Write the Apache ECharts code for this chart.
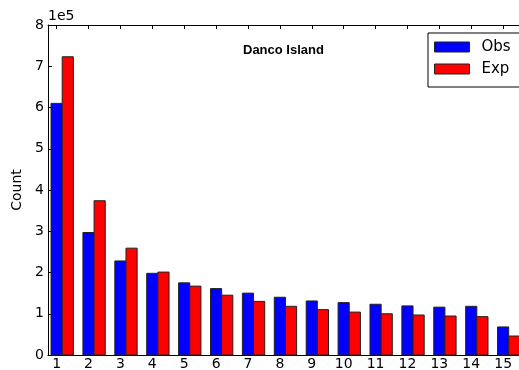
<!DOCTYPE html>
<html>
<head>
<meta charset="utf-8">
<script src="https://cdn.jsdelivr.net/npm/echarts@6/dist/echarts.min.js"></script>
<style>
  html, body { margin: 0; padding: 0; background: #fff; }
  #chart { width: 519px; height: 370px; }
</style>
</head>
<body>
<div id="chart"></div>
<script>
// Bin index (1..15) and the observed / expected counts, in units of 1e5
const categories = [1, 2, 3, 4, 5, 6, 7, 8, 9, 10, 11, 12, 13, 14, 15];
const obsValues = [6.10, 2.97, 2.28, 1.98, 1.75, 1.61, 1.50, 1.40, 1.31, 1.27, 1.23, 1.19, 1.16, 1.18, 0.68];
const expValues = [7.23, 3.74, 2.59, 2.01, 1.67, 1.45, 1.30, 1.18, 1.10, 1.04, 1.00, 0.97, 0.945, 0.93, 0.46];
const yTicks = [0, 1, 2, 3, 4, 5, 6, 7, 8];

const FONT = 'DejaVu Sans';
const BAR_W = 0.35;

// Each bar is a rectangle spanning [x0, x0 + BAR_W] in data units
function barRenderer(offset) {
  return function (params, api) {
    const x = api.value(0);
    const y = api.value(1);
    const p0 = api.coord([x + offset, 0]);
    const p1 = api.coord([x + offset + BAR_W, y]);
    return {
      type: 'rect',
      shape: { x: p0[0], y: p1[1], width: p1[0] - p0[0], height: p0[1] - p1[1] },
      style: { fill: api.visual('color'), stroke: '#222', lineWidth: 1 }
    };
  };
}

const chart = echarts.init(document.getElementById('chart'), null, { renderer: 'canvas' });

const xCommon = {
  type: 'value',
  min: 0.73,
  max: 15.56,
  splitLine: { show: false },
  axisLine: { show: true, onZero: false, lineStyle: { color: '#000', width: 1 } },
  axisTick: { show: true, inside: true, length: 4, customValues: categories, lineStyle: { color: '#000' } }
};

chart.setOption({
  animation: false,
  backgroundColor: '#fff',
  grid: { left: 48, right: -2, top: 25, bottom: 15, containLabel: false, outerBoundsMode: 'none' },
  title: {
    text: 'Danco Island',
    left: 243, top: 44,
    padding: 0,
    textStyle: { fontFamily: 'Liberation Sans', fontWeight: 'bold', fontSize: 13, color: '#000' }
  },
  legend: {
    orient: 'vertical',
    left: 428, top: 33,
    padding: [5, 20, 9, 6],
    itemGap: 4,
    itemWidth: 35, itemHeight: 10,
    borderColor: '#000', borderWidth: 1, borderRadius: 0,
    backgroundColor: '#fff',
    textStyle: { fontFamily: FONT, fontSize: 15, color: '#000', lineHeight: 18, padding: [0, 0, 0, 7] },
    data: [
      { name: 'Obs', icon: 'rect', itemStyle: { color: '#0000ff', borderColor: '#222', borderWidth: 1 } },
      { name: 'Exp', icon: 'rect', itemStyle: { color: '#ff0000', borderColor: '#222', borderWidth: 1 } }
    ]
  },
  graphic: [{
    type: 'text', left: 48, top: 9,
    style: { text: '1e5', font: '14px "DejaVu Sans"', fill: '#000' }
  }],
  xAxis: [
    Object.assign({}, xCommon, {
      position: 'bottom',
      axisLabel: {
        show: true, customValues: categories, margin: 2,
        fontFamily: FONT, fontSize: 14, color: '#000'
      }
    }),
    Object.assign({}, xCommon, { position: 'top', axisLabel: { show: false } })
  ],
  yAxis: {
    type: 'value',
    min: 0, max: 8, interval: 1,
    name: 'Count', nameLocation: 'middle', nameGap: 14,
    nameTextStyle: { fontFamily: FONT, fontSize: 14, color: '#000' },
    splitLine: { show: false },
    axisLine: { show: true, lineStyle: { color: '#000', width: 1 } },
    axisTick: { show: true, inside: true, length: 4, lineStyle: { color: '#000' } },
    axisLabel: {
      margin: 4, fontFamily: FONT, fontSize: 14, color: '#000',
      customValues: yTicks
    }
  },
  series: [
    {
      name: 'Obs', type: 'custom', xAxisIndex: 0,
      itemStyle: { color: '#0000ff' },
      renderItem: barRenderer(-BAR_W / 2),
      encode: { x: 0, y: 1 },
      data: categories.map((c, i) => [c, obsValues[i]])
    },
    {
      name: 'Exp', type: 'custom', xAxisIndex: 0,
      itemStyle: { color: '#ff0000' },
      renderItem: barRenderer(BAR_W / 2),
      encode: { x: 0, y: 1 },
      data: categories.map((c, i) => [c, expValues[i]])
    }
  ]
});
</script>
</body>
</html>
